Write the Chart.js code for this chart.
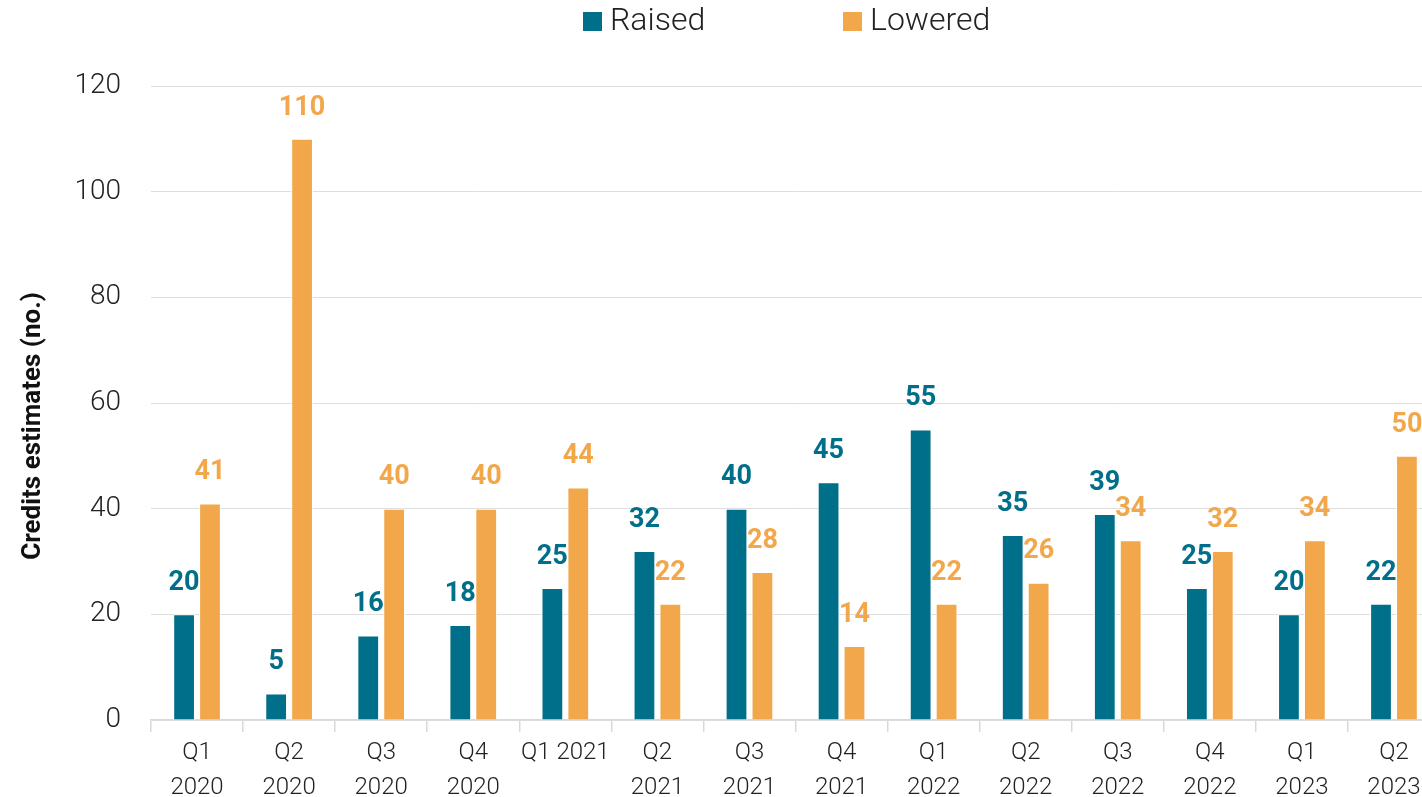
<!DOCTYPE html>
<html>
<head>
<meta charset="utf-8">
<script src="https://cdn.jsdelivr.net/npm/chart.js@4"></script>
<style>
  html, body { margin: 0; padding: 0; background: #fff; overflow: hidden; }
  #wrap { width: 1422px; height: 797px; overflow: hidden; }
  #inner { width: 1440px; height: 797px; }
</style>
</head>
<body>
<div id="wrap"><div id="inner"><canvas id="chart"></canvas></div></div>
<script>
// valores
const quarters = [
  ['Q1', '2020'], ['Q2', '2020'], ['Q3', '2020'], ['Q4', '2020'], 'Q1 2021',
  ['Q2', '2021'], ['Q3', '2021'], ['Q4', '2021'], ['Q1', '2022'], ['Q2', '2022'],
  ['Q3', '2022'], ['Q4', '2022'], ['Q1', '2023'], ['Q2', '2023']
];
const raised = [20, 5, 16, 18, 25, 32, 40, 45, 55, 35, 39, 25, 20, 22];
const lowered = [41, 110, 40, 40, 44, 22, 28, 14, 22, 26, 34, 32, 34, 50];
const yTicks = [0, 20, 40, 60, 80, 100, 120];

const TEAL = '#006f8a';
const ORANGE = '#f2a74b';
const FONT = 'Roboto, "Liberation Sans", sans-serif';

// rótulos de valor acima das barras
const valueLabels = {
  id: 'valueLabels',
  afterDatasetsDraw(chart) {
    const ctx = chart.ctx;
    ctx.save();
    ctx.font = 'bold 27px ' + FONT;
    ctx.textAlign = 'center';
    ctx.textBaseline = 'middle';
    chart.data.datasets.forEach((ds, i) => {
      const meta = chart.getDatasetMeta(i);
      ctx.fillStyle = ds.backgroundColor;
      meta.data.forEach((bar, j) => {
        ctx.fillText(String(ds.data[j]), bar.x, bar.y - 31);
      });
    });
    ctx.restore();
  }
};

// legenda e título do eixo desenhados à mão
const extras = {
  id: 'extras',
  afterDraw(chart) {
    const ctx = chart.ctx;
    ctx.save();
    ctx.font = '300 32px ' + FONT;
    ctx.textBaseline = 'middle';
    const items = [
      { text: 'Raised', color: TEAL, x: 583 },
      { text: 'Lowered', color: ORANGE, x: 843 }
    ];
    items.forEach(it => {
      ctx.fillStyle = it.color;
      ctx.fillRect(it.x, 12, 19, 19);
      ctx.fillStyle = '#222';
      ctx.fillText(it.text, it.x + 27, 22);
    });
    ctx.translate(33, 426);
    ctx.rotate(-Math.PI / 2);
    ctx.textAlign = 'center';
    ctx.fillStyle = '#111';
    ctx.font = 'bold 26px ' + FONT;
    ctx.fillText('Credits estimates (no.)', 0, 0);
    ctx.restore();
  }
};

new Chart(document.getElementById('chart'), {
  type: 'bar',
  data: {
    labels: quarters,
    datasets: [
      { label: 'Raised', data: raised, backgroundColor: TEAL, borderColor: '#ffffff', borderWidth: 1,
        categoryPercentage: 0.563, barPercentage: 0.84 },
      { label: 'Lowered', data: lowered, backgroundColor: ORANGE, borderColor: '#ffffff', borderWidth: 1,
        categoryPercentage: 0.563, barPercentage: 0.84 }
    ]
  },
  options: {
    responsive: true,
    maintainAspectRatio: false,
    animation: false,
    layout: { padding: { top: 86, right: 0, left: 0, bottom: 0 } },
    plugins: {
      legend: { display: false },
      tooltip: { enabled: false }
    },
    scales: {
      x: {
        offset: true,
        grid: { display: true, drawOnChartArea: false, offset: true, tickLength: 12, color: '#d9d9d9', lineWidth: 1.5 },
        border: { color: '#d9d9d9', width: 1.5 },
        ticks: { color: '#222', padding: 4, maxRotation: 0, autoSkip: false,
          font: { family: FONT, size: 24, weight: '300', lineHeight: 1.45 } },
        afterFit: s => { s.height = 77; }
      },
      y: {
        min: 0,
        max: 120,
        afterBuildTicks: s => { s.ticks = yTicks.map(v => ({ value: v })); },
        grid: { color: '#dedede', lineWidth: 1, drawTicks: false },
        border: { display: false },
        ticks: { color: '#222', padding: 30, font: { family: FONT, size: 28, weight: '300' } },
        afterFit: s => { s.width = 151; }
      }
    }
  },
  plugins: [valueLabels, extras]
});
</script>
</body>
</html>
